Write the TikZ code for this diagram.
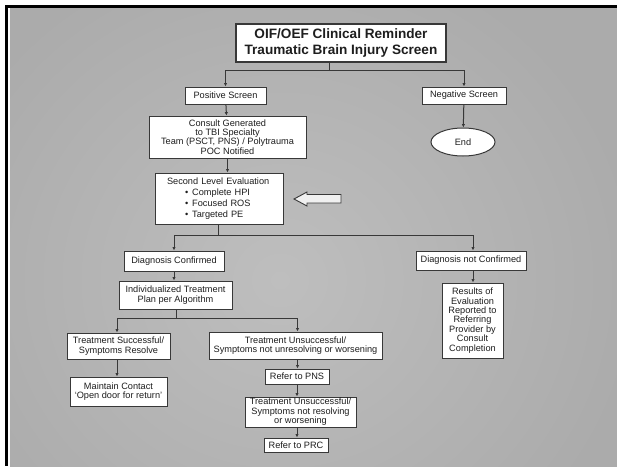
\documentclass[tikz,border=0pt]{standalone}
\usepackage{fontspec}
\setmainfont{Liberation Sans}
\usetikzlibrary{arrows.meta,shapes.geometric}
\tikzset{
  box/.style={draw=edge, fill=white, line width=1pt, inner sep=0pt, align=center, text=ink, font=\fontsize{9.2}{9.4}\selectfont},
  link/.style={draw=edge, line width=1pt},
  tip/.style={link, -{Latex[length=3.4pt,width=3.4pt]}},
}
\begin{document}
\begin{tikzpicture}[x=1pt,y=-1pt]
\definecolor{edge}{HTML}{383838}
\definecolor{ink}{HTML}{1E1E1E}
\definecolor{slide}{HTML}{ABABAB}
\definecolor{glow}{HTML}{BEBEBE}
\definecolor{pointer}{HTML}{F0F0F0}
\useasboundingbox (0,0) rectangle (617,466);
%Slide:
\fill[white] (0,0) rectangle (617,466);
\begin{scope}
\clip (10,7.5) rectangle (617,466);
\shade[inner color=glow, outer color=slide] (-80,-60) rectangle (640,620);
\end{scope}
\fill[black] (5,5) rectangle (617,7.5);
\fill[black] (5,5) rectangle (7.5,466);
%Boxes:
\node[box, line width=1.1pt, minimum width=210, minimum height=38, font=\fontsize{13.6}{16}\selectfont\bfseries] (title) at (341,43) {OIF/OEF Clinical Reminder\\Traumatic Brain Injury Screen};
\node[box, minimum width=81, minimum height=17] (pos) at (225.5,95.5) {Positive Screen};
\node[box, minimum width=84, minimum height=17] (neg) at (464,95.5) {Negative Screen};
\node[box, minimum width=157, minimum height=42] (consult) at (227.5,137) {Consult Generated\\to TBI Specialty\\Team (PSCT, PNS) / Polytrauma\\POC Notified};
\node[box, ellipse, minimum width=64, minimum height=28] (end) at (463,142) {End};
\node[box, minimum width=128, minimum height=51, text width=104, align=left, font=\fontsize{9.2}{11}\selectfont] (eval) at (219,198.5) {Second Level Evaluation\\\hspace*{18pt}\textbullet\hspace{4pt}Complete HPI\\\hspace*{18pt}\textbullet\hspace{4pt}Focused ROS\\\hspace*{18pt}\textbullet\hspace{4pt}Targeted PE};
\node[box, minimum width=100, minimum height=20] (conf) at (174,261) {Diagnosis Confirmed};
\node[box, minimum width=110, minimum height=19] (notconf) at (471,260.5) {Diagnosis not Confirmed};
\node[box, minimum width=61, minimum height=75] (results) at (472.5,320.5) {Results of\\Evaluation\\Reported to\\Referring\\Provider by\\Consult\\Completion};
\node[box, minimum width=113, minimum height=28] (plan) at (175.5,295) {Individualized Treatment\\Plan per Algorithm};
\node[box, minimum width=103, minimum height=26] (success) at (118.5,346) {Treatment Successful/\\Symptoms Resolve};
\node[box, minimum width=173, minimum height=27] (fail) at (295.5,345.5) {Treatment Unsuccessful/\\Symptoms not unresolving or worsening};
\node[box, minimum width=97, minimum height=29] (contact) at (118.5,391.5) {Maintain Contact\\`Open door for return'};
\node[box, minimum width=64, minimum height=15] (pns) at (297,376.5) {Refer to PNS};
\node[box, minimum width=111, minimum height=30] (fail2) at (300.5,412) {Treatment Unsuccessful/\\Symptoms not resolving\\or worsening};
\node[box, minimum width=64, minimum height=14] (prc) at (296,445) {Refer to PRC};
%Pointer:
\draw[edge, fill=pointer, line width=0.9pt] (341,194.5) -- (307,194.5) -- (307,192) -- (294,199) -- (307,206) -- (307,203) -- (341,203) -- cycle;
%Splits:
\coordinate (s1) at (329,70);
\coordinate (s2) at (218,235);
\coordinate (s3) at (176,318);
%Connectors:
\draw[link] (title.south -| s1) -- (s1);
\draw[tip] (s1) -| (pos.north);
\draw[tip] (s1) -| (neg.north);
\draw[tip] (pos) -- (consult);
\draw[tip] (neg) -- (end);
\draw[tip] (consult.south) -- (consult.south |- eval.north);
\draw[link] (eval.south -| s2) -- (s2);
\draw[tip] (s2) -| (conf.north);
\draw[tip] (s2) -| ([xshift=2pt]notconf.north);
\draw[tip] (conf) -- (conf |- plan.north);
\draw[tip] ([xshift=2pt]notconf.south) -- ([xshift=2pt]notconf.south |- results.north);
\draw[link] (plan.south -| s3) -- (s3);
\draw[tip] (s3) -| ([xshift=-1.5pt]success.north);
\draw[tip] (s3) -| ([xshift=2pt]fail.north);
\draw[tip] ([xshift=-1.5pt]success.south) -- ([xshift=-1.5pt]success.south |- contact.north);
\draw[tip] ([xshift=2pt]fail.south) -- ([xshift=2pt]fail.south |- pns.north);
\draw[tip] (pns.south) -- (pns.south |- fail2.north);
\draw[tip] (fail2.south -| pns) -- (prc.north -| pns);
\end{tikzpicture}
\end{document}
